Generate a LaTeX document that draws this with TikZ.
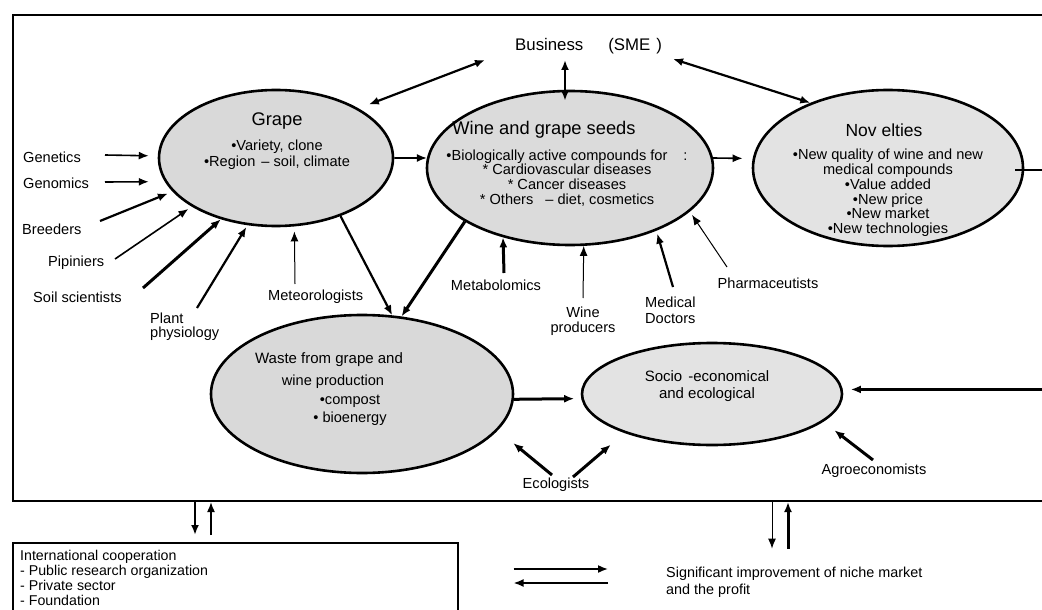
\documentclass[tikz,border=0pt]{standalone}
\usepackage{fontspec}
\setmainfont{Liberation Sans}
\usetikzlibrary{shapes.geometric,arrows.meta,calc}
\definecolor{ellA}{HTML}{D9D9D9}
\definecolor{ellB}{HTML}{E3E3E3}
\newcommand\fsbody{\fontsize{14.6}{14.8}\selectfont}
\newcommand\fstwo{\fontsize{14.6}{15.5}\selectfont}
\newcommand\fssub{\fontsize{15}{17}\selectfont}
\newcommand\fsbus{\fontsize{16.8}{17}\selectfont}
\newcommand\fsnov{\fontsize{17.5}{18}\selectfont}
\newcommand\fstitle{\fontsize{18.3}{19}\selectfont}
\begin{document}
\begin{tikzpicture}[x=1pt,y=-1pt,
  lbl/.style={inner sep=0pt, font=\fsbody, align=center},
  ell/.style={ellipse, draw, line width=2.6pt, inner sep=0pt},
  ar/.style={-{Latex[length=10pt,width=8pt]}},
  dar/.style={{Latex[length=10pt,width=8pt]}-{Latex[length=10pt,width=8pt]}},
  wa/.style={line width=1pt},
  wb/.style={line width=1.6pt},
  wc/.style={line width=2.2pt},
  wd/.style={line width=3pt}]
\clip (0,0) rectangle (1042,610);
\fill[white] (0,0) rectangle (1042,610);

% frames
\node[draw, line width=2pt, minimum width=1070pt, minimum height=486pt, anchor=north west, inner sep=0pt] (outer) at (12,14) {};
\node[draw, line width=1.6pt, minimum width=445pt, minimum height=110pt, anchor=north west, inner sep=0pt] (coopbox) at (12,542) {};

% ellipses
\node[ell, fill=ellA, minimum width=234pt, minimum height=136pt] (grape) at (276,158) {};
\node[ell, fill=ellA!80!ellB, minimum width=286pt, minimum height=154pt] (wine) at (570,168) {};
\node[ell, fill=ellB, minimum width=270pt, minimum height=156pt] (nov) at (888,168) {};
\node[ell, fill=ellA, minimum width=302pt, minimum height=158pt] (waste) at (362,394) {};
\node[ell, fill=ellB, minimum width=260pt, minimum height=102pt] (soc) at (712,394) {};

% texts in ellipses
\node[lbl, font=\fsbus, anchor=west] (bus) at (515,46) {Business\hspace{25pt}(SME\hspace{6pt})};
\node[lbl, font=\fstitle] (grapeT) at (277,121) {Grape};
\node[lbl, font=\fontsize{14.6}{16}\selectfont] (grapeB) at (277,155) {•Variety, clone\\•Region\hspace{6pt}– soil, climate};
\node[lbl, font=\fstitle] (wineT) at (544,130) {Wine and grape seeds};
\node[lbl] (wineB) at (567,178) {•Biologically active compounds for\hspace{16pt}:\\* Cardiovascular diseases\\* Cancer diseases\\* Others\hspace{12pt}– diet, cosmetics};
\node[lbl, font=\fsnov] (novT) at (884,130) {Nov elties};
\node[lbl] (novB) at (888,193) {•New quality of wine and new\\medical compounds\\•Value added\\•New price\\•New market\\•New technologies};
\node[lbl, font=\fssub] (wasteT) at (329,360) {Waste from grape and};
\node[lbl] (wasteB1) at (333,382) {wine production};
\node[lbl] (wasteB2) at (350,401) {•compost};
\node[lbl] (wasteB3) at (350,419) {• bioenergy};
\node[lbl, font=\fssub] (socT) at (707,386) {Socio\hspace{6pt}-economical\\and ecological};

% outside labels
\node[lbl, anchor=west] (gen) at (23,157) {Genetics};
\node[lbl, anchor=west] (genm) at (23,183) {Genomics};
\node[lbl, anchor=west] (bre) at (22,229) {Breeders};
\node[lbl, anchor=west] (pip) at (48,263) {Pipiniers};
\node[lbl, anchor=west] (soil) at (33,297) {Soil scientists};
\node[lbl, anchor=west, align=left, font=\fontsize{14.6}{14}\selectfont] (plant) at (150,327) {Plant\\physiology};
\node[lbl, anchor=west] (met) at (268,297) {Meteorologists};
\node[lbl] (metab) at (496,285) {Metabolomics};
\node[lbl, font=\fstwo] (winep) at (583,321) {Wine\\producers};
\node[lbl, anchor=west, align=left, font=\fontsize{14.6}{16}\selectfont] (med) at (645,310) {Medical\\Doctors};
\node[lbl] (pharm) at (768,283) {Pharmaceutists};
\node[lbl] (eco) at (556,485) {Ecologists};
\node[lbl] (agro) at (874,471) {Agroeconomists};
\node[lbl, anchor=west, align=left, font=\fontsize{14.4}{17}\selectfont] (sig) at (666,582) {Significant improvement of niche market\\and the profit};
\node[lbl, anchor=north west, align=left, font=\fontsize{14.2}{15}\selectfont] (coop) at (20,550) {International cooperation\\- Public research organization\\- Private sector\\- Foundation};

% tail coordinates
\coordinate (genT) at (105,155);
\coordinate (genmT) at (105,182);
\coordinate (breT) at (100,221);
\coordinate (pipT) at (115,259);
\coordinate (soilT) at (143,288);
\coordinate (plantT) at (197,308);
\coordinate (metT) at (295,284);
\coordinate (metabT) at (504,273);
\coordinate (wpT) at (583,298);
\coordinate (medT) at (673,287);
\coordinate (pharmT) at (727,267);
\coordinate (ecoT1) at (552,475);
\coordinate (ecoT2) at (573,477);
\coordinate (agroT) at (873,460);
\coordinate (busG) at (485,60);
\coordinate (busW) at (565,60);
\coordinate (busN) at (673,59);
\coordinate (rc) at (1065,0);
\coordinate (vx1) at (195,0);
\coordinate (vx2) at (211,0);
\coordinate (vx3) at (772,0);
\coordinate (vx4) at (788,0);
\coordinate (hy1) at (0,569);
\coordinate (hy2) at (0,583);

% business arrows
\draw[dar, wc, shorten >=11pt] (busG) -- (grape.31);
\draw[dar, wc, shorten >=-11pt] (busW) -- (busW |- wine.north);
\draw[dar, wc] (busN) -- (nov.140);

% into grape
\draw[ar, wb, shorten >=9pt] (genT) -- (grape.179);
\draw[ar, wb, shorten >=16pt] (genmT) -- (grape.192);
\draw[ar, wc, shorten >=5pt] (breT) -- (grape.198);
\draw[ar, wb, shorten >=4pt] (pipT) -- (grape.210);
\draw[ar, wd] (soilT) -- (grape.228);
\draw[ar, wc, shorten >=2pt] (plantT) -- (grape.247);
\draw[ar, wa, shorten >=5pt] (metT) -- (grape.285);

% between ellipses
\draw[ar, wb] (grape.0) -- (wine.176);
\draw[ar, wb, shorten >=10pt] (wine.4) -- (nov.176);
\draw[ar, wc] (grape.318) -- (waste.69);
\draw[ar, wd] (wine.207) -- (waste.63);
\draw[ar, wd, shorten >=7pt] (waste.358) -- (soc.182);
\draw[ar, wc, shorten <=-9pt, shorten >=8pt] (nov.359) -- (nov.359 -| rc) |- (soc.2);

% into wine
\draw[ar, wd] (metabT) -- (wine.226);
\draw[ar, wa] (wpT) -- (wine.280);
\draw[ar, wc, shorten >=3pt] (medT) -- (wine.324);
\draw[ar, wa, shorten >=4pt] (pharmT) -- (wine.340);

% ecologists, agro
\draw[ar, wd, shorten >=20pt] (ecoT1) -- (waste.345);
\draw[ar, wd, shorten >=18pt] (ecoT2) -- (soc.204);
\draw[ar, wd, shorten >=14pt] (agroT) -- (soc.346);

% bottom
\draw[ar, wc, shorten >=7pt] (vx1 |- outer.south) -- (vx1 |- coopbox.north);
\draw[ar, wb, shorten <=7pt] (vx2 |- coopbox.north) -- (vx2 |- outer.south);
\draw[ar, wa, shorten >=18pt] (vx3 |- outer.south) -- (vx3 |- sig.north);
\draw[ar, wd, shorten <=18pt] (vx4 |- sig.north) -- (vx4 |- outer.south);
\draw[ar, wb, shorten <=55pt, shorten >=58pt] (coopbox.east |- hy1) -- (sig.west |- hy1);
\draw[ar, wb, shorten <=58pt, shorten >=55pt] (sig.west |- hy2) -- (coopbox.east |- hy2);
\end{tikzpicture}
\end{document}
